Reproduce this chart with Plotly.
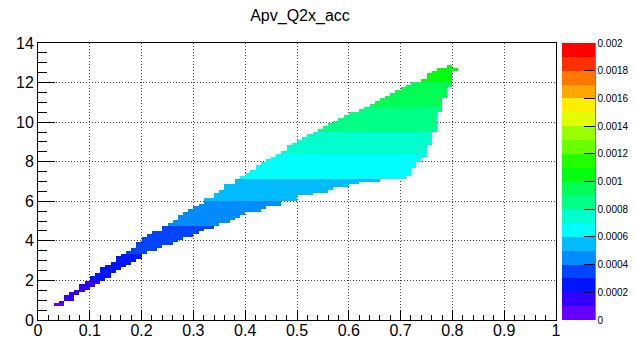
import colorsys
import numpy as np
import plotly.graph_objects as go

# ---------------- data ----------------
title = "Apv_Q2x_acc"
# x bins: width 0.01 over [0,1]; y bins: 100 bins over [0,14]
x_nbins, x_min, x_max = 100, 0.0, 1.0
y_nbins, y_min, y_max = 100, 0.0, 14.0

# filled columns: centres of the x bins that contain entries
col_x = [0.035, 0.045, 0.055, 0.065, 0.075, 0.085, 0.095, 0.105, 0.115, 0.125,
         0.135, 0.145, 0.155, 0.165, 0.175, 0.185, 0.195, 0.205, 0.215, 0.225,
         0.235, 0.245, 0.255, 0.265, 0.275, 0.285, 0.295, 0.305, 0.315, 0.325,
         0.335, 0.345, 0.355, 0.365, 0.375, 0.385, 0.395, 0.405, 0.415, 0.425,
         0.435, 0.445, 0.455, 0.465, 0.475, 0.485, 0.495, 0.505, 0.515, 0.525,
         0.535, 0.545, 0.555, 0.565, 0.575, 0.585, 0.595, 0.605, 0.615, 0.625,
         0.635, 0.645, 0.655, 0.665, 0.675, 0.685, 0.695, 0.705, 0.715, 0.725,
         0.735, 0.745, 0.755, 0.765, 0.775, 0.785, 0.795, 0.805]
# upper edge (Q2) of the filled region in each column
col_y_high = [0.84, 0.95, 1.20, 1.36, 1.60, 1.76, 1.93, 2.27, 2.38, 2.62,
              2.77, 2.97, 3.19, 3.38, 3.49, 3.70, 3.95, 4.20, 4.37, 4.45,
              4.54, 4.75, 4.88, 5.10, 5.26, 5.45, 5.55, 5.80, 5.89, 6.10,
              6.22, 6.45, 6.64, 6.80, 6.93, 7.10, 7.25, 7.45, 7.60, 7.80,
              7.95, 8.10, 8.30, 8.45, 8.60, 8.78, 8.90, 9.10, 9.20, 9.35,
              9.46, 9.60, 9.75, 9.90, 10.10, 10.20, 10.30, 10.45, 10.56, 10.70,
              10.80, 10.95, 11.05, 11.15, 11.35, 11.50, 11.65, 11.75, 11.90, 12.00,
              12.10, 12.25, 12.40, 12.55, 12.70, 12.80, 12.95, 12.80]
# lower edge (Q2) of the filled region in each column
col_y_low = [0.70, 0.75, 1.00, 1.05, 1.20, 1.36, 1.50, 1.70, 1.85, 1.98,
             2.12, 2.37, 2.52, 2.69, 2.87, 2.94, 3.12, 3.30, 3.45, 3.55,
             3.65, 3.75, 3.85, 3.95, 4.05, 4.15, 4.25, 4.35, 4.45, 4.58,
             4.68, 4.80, 4.88, 4.95, 5.05, 5.15, 5.30, 5.40, 5.47, 5.50,
             5.60, 5.73, 5.75, 5.80, 5.99, 6.00, 6.05, 6.24, 6.25, 6.30,
             6.41, 6.45, 6.50, 6.60, 6.66, 6.70, 6.75, 6.83, 6.90, 6.95,
             7.00, 7.05, 7.05, 7.10, 7.10, 7.12, 7.12, 7.12, 7.34, 7.76,
             8.02, 8.31, 8.86, 9.46, 10.47, 11.15, 11.75, 12.54]
# acceptance value (value holds up to each Q2 edge)
band_y_upper = [0.9, 2.0, 3.3, 4.8, 6.0, 7.1, 8.35, 9.5, 10.75, 12.0, 14.0]
band_value = [0.00005, 0.00015, 0.00025, 0.00035, 0.00045, 0.00055,
              0.00065, 0.00075, 0.00085, 0.00095, 0.00105]

z_min, z_max, n_contours = 0.0, 0.002, 20
cbar_ticks = [0, 0.0002, 0.0004, 0.0006, 0.0008, 0.001, 0.0012, 0.0014, 0.0016, 0.0018, 0.002]
cbar_ticktext = ["0", "0.0002", "0.0004", "0.0006", "0.0008", "0.001", "0.0012",
                 "0.0014", "0.0016", "0.0018", "0.002"]
x_ticks = [0, 0.1, 0.2, 0.3, 0.4, 0.5, 0.6, 0.7, 0.8, 0.9, 1]
x_ticktext = ["0", "0.1", "0.2", "0.3", "0.4", "0.5", "0.6", "0.7", "0.8", "0.9", "1"]
y_ticks = [0, 2, 4, 6, 8, 10, 12, 14]

# ---------------- build histogram grid ----------------
xw = (x_max - x_min) / x_nbins
yw = (y_max - y_min) / y_nbins
x_centres = x_min + xw * (np.arange(x_nbins) + 0.5)
y_centres = y_min + yw * (np.arange(y_nbins) + 0.5)
z = [[None] * x_nbins for _ in range(y_nbins)]
for cx, lo, hi in zip(col_x, col_y_low, col_y_high):
    i = int(round((cx - x_min) / xw - 0.5))
    for j, yc in enumerate(y_centres):
        if lo <= yc <= hi:
            k = next(b for b, e in enumerate(band_y_upper) if yc <= e)
            z[j][i] = band_value[k]

# ROOT "pretty" palette (50 colours), 20 contour levels
palette = []
for p in range(50):
    hue = 280 - (p + 1) * (280 / 50)
    r, g, b = colorsys.hls_to_rgb(hue / 360.0, 0.5, 1.0)
    palette.append(f"rgb({round(r*255)},{round(g*255)},{round(b*255)})")
colorscale = []
for ic in range(n_contours):
    col = palette[int((ic + 0.99) * 50 / n_contours)]
    colorscale.append([ic / n_contours, col])
    colorscale.append([(ic + 1) / n_contours, col])

# ---------------- figure ----------------
W, H = 635, 341
L, R, T, B = 38, 556, 43, 320
font = "Liberation Sans, Arial, Helvetica, sans-serif"

fig = go.Figure(go.Heatmap(
    x=x_centres, y=y_centres, z=z, zmin=z_min, zmax=z_max,
    colorscale=colorscale, hoverongaps=False,
    colorbar=dict(
        x=(562 - L) / (R - L), xanchor="left", xpad=0, ypad=0,
        y=0, yanchor="bottom", len=1, lenmode="fraction",
        thickness=33, outlinewidth=0,
        tickvals=cbar_ticks, ticktext=cbar_ticktext,
        ticks="inside", ticklen=11, tickcolor="black", tickwidth=1,
        tickfont=dict(family=font, size=10, color="black"),
    ),
))

fig.add_shape(type="line", xref="paper", yref="paper",
              x0=(595 - L) / (R - L), x1=(595 - L) / (R - L), y0=0, y1=1,
              line=dict(color="black", width=1))

fig.update_layout(
    width=W, height=H,
    margin=dict(l=L, r=W - R, t=T, b=H - B, pad=0, autoexpand=False),
    paper_bgcolor="white", plot_bgcolor="white",
    font=dict(family=font, color="black"),
    title=dict(text=title, x=300 / W, xanchor="center",
               y=1 - 15 / H, yanchor="middle", yref="container",
               font=dict(family=font, size=16, color="black")),
    showlegend=False,
)
fig.update_xaxes(
    range=[x_min, x_max], tickvals=x_ticks, ticktext=x_ticktext,
    ticks="inside", ticklen=10, tickwidth=1, tickcolor="black",
    minor=dict(dtick=0.02, ticks="inside", ticklen=5, tickcolor="black", showgrid=False),
    showgrid=True, gridcolor="#444", griddash="1px,2px", gridwidth=1,
    showline=True, linecolor="black", linewidth=1, mirror=True, zeroline=False,
    tickfont=dict(family=font, size=16, color="black"), ticklabelstandoff=-4,
)
fig.update_yaxes(
    range=[y_min, y_max], tickvals=y_ticks,
    ticks="inside", ticklen=17, tickwidth=1, tickcolor="black",
    minor=dict(dtick=0.5, ticks="inside", ticklen=9, tickcolor="black", showgrid=False),
    showgrid=True, gridcolor="#444", griddash="1px,2px", gridwidth=1,
    showline=True, linecolor="black", linewidth=1, mirror=True, zeroline=False,
    tickfont=dict(family=font, size=16, color="black"),
)

fig.write_html("out.html")
